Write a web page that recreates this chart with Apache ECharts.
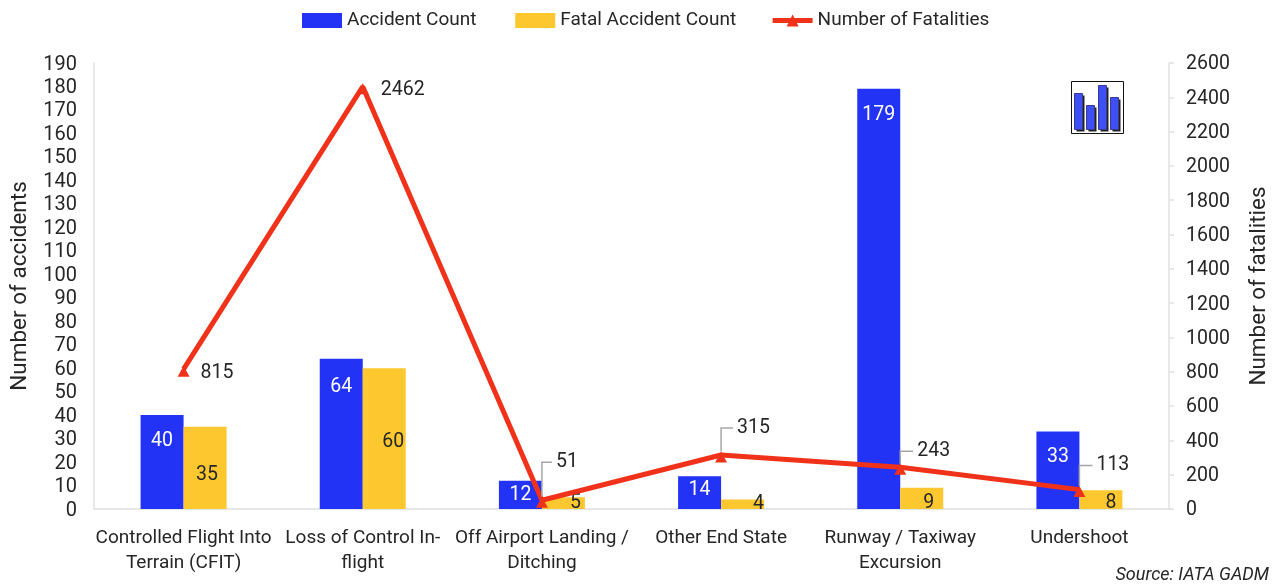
<!DOCTYPE html>
<html><head><meta charset="utf-8">
<style>html,body{margin:0;padding:0;background:#fff}#c{width:1277px;height:587px}</style>
<script src="https://cdn.jsdelivr.net/npm/echarts@6/dist/echarts.min.js"></script>
</head><body><div id="c"></div>
<script>
const categories = ['Controlled Flight Into\nTerrain (CFIT)','Loss of Control In-\nflight','Off Airport Landing /\nDitching','Other End State','Runway / Taxiway\nExcursion','Undershoot'];
const accidentCount = [40,64,12,14,179,33];
const fatalAccidentCount = [35,60,5,4,9,8];
const fatalities = [815,2462,51,315,243,113];
const F='Roboto', INK='#262626', AXIS='#e0e0e0', LEAD='#a6a6a6';
const chart = echarts.init(document.getElementById('c'));
const accOffY=[16,18,4,4,16,16];
const fatOff=[[2,-24],[9,-57],[12,4.5],[16,5.5],[7,4.5],[10,4.5]];
const leader=[false,false,true,true,true,true];
const leaderLen=[0,0,10,12,13,13];
const lblOff=[[7,2],[8,1],[4,-40],[6,-29],[7,-18],[7,-26]];
chart.setOption({
  animation:false,
  textStyle:{fontFamily:F},
  legend:{top:6,left:297,itemGap:34,itemWidth:40,itemHeight:15,textStyle:{fontFamily:F,fontSize:19,color:INK},
    formatter:n=>n==='Accident Count'?n+' ':n,
    data:[{name:'Accident Count',icon:'rect'},{name:'Fatal Accident Count',icon:'rect'},{name:'Number of Fatalities',symbolSize:15,lineStyle:{width:5,color:'#f0321a'}}]},
  grid:{left:94,right:108,top:63,bottom:78,outerBoundsMode:'none'},
  xAxis:{type:'category',data:categories,axisTick:{show:false},axisLine:{lineStyle:{color:AXIS,width:1.5}},
    axisLabel:{fontFamily:F,fontSize:19,color:INK,lineHeight:25,margin:17,interval:0}},
  yAxis:[
    {type:'value',min:0,max:190,interval:10,name:'Number of accidents',nameLocation:'middle',nameGap:62,nameRotate:90,
      nameTextStyle:{fontFamily:F,fontSize:22.5,color:INK},splitLine:{show:false},axisLine:{show:true,lineStyle:{color:AXIS,width:1.5}},axisTick:{show:false},
      axisLabel:{fontFamily:F,fontSize:20,color:INK,margin:17,verticalAlign:'top',padding:[-8.5,0,0,0]}},
    {type:'value',min:0,max:2600,interval:200,position:'right',name:'Number of fatalities',nameLocation:'middle',nameGap:79,nameRotate:90,
      nameTextStyle:{fontFamily:F,fontSize:22.5,color:INK},splitLine:{show:false},axisLine:{show:true,lineStyle:{color:AXIS,width:1.5}},axisTick:{show:true,length:5,lineStyle:{color:AXIS,width:1.5}},
      axisLabel:{fontFamily:F,fontSize:19.5,color:INK,margin:17,verticalAlign:'top',padding:[-8.5,0,0,0],formatter:v=>String(v)}}
  ],
  series:[
    {name:'Accident Count',type:'bar',barGap:0,barCategoryGap:'52%',itemStyle:{color:'#2233f5'},
      data:accidentCount.map((v,i)=>({value:v,label:{show:true,position:'insideTop',distance:0,offset:[0,accOffY[i]],fontFamily:F,fontSize:19.5,color:'#fff'}}))},
    {name:'Fatal Accident Count',type:'bar',itemStyle:{color:'#fdc82f'},
      data:fatalAccidentCount.map((v,i)=>({value:v,label:{show:true,position:'insideBottom',distance:0,offset:fatOff[i],fontFamily:F,fontSize:19.5,color:INK}}))},
    {name:'Number of Fatalities',type:'line',yAxisIndex:1,symbol:'triangle',symbolSize:[12,11],symbolOffset:[0,2],showAllSymbol:true,
      lineStyle:{color:'#f0321a',width:5},itemStyle:{color:'#f0321a'},
      label:{show:true,position:'right',distance:0,fontFamily:F,fontSize:19.5,color:INK},
      labelLayout:p=>({dx:lblOff[p.dataIndex][0],dy:lblOff[p.dataIndex][1]}),
      labelLine:{show:true,lineStyle:{color:LEAD,width:1.5}},
      data:fatalities.map((v,i)=>({value:v,
        label:{padding:leader[i]?[0,40,0,4]:[0,0,0,4],backgroundColor:'transparent'},
        labelLine:{show:leader[i],length2:leaderLen[i],lineStyle:{color:LEAD,width:1.5}}}))}
  ],
  graphic:[
    {type:'text',right:8,top:566,style:{text:'Source: IATA GADM',fontFamily:F,fontSize:18,fontStyle:'italic',fill:INK}},
    {type:'group',left:1071,top:81,children:[
      {type:'rect',shape:{x:0,y:0,width:52,height:52},style:{fill:'#fff',stroke:'#111',lineWidth:1}},
      ...[[3,12,8,36],[15,24,8,24],[27,4,8,44],[39,16,8,32]].flatMap(r=>[
        {type:'rect',shape:{x:r[0]+2,y:r[1]+2,width:r[2],height:r[3]},style:{fill:'#222'}},
        {type:'rect',shape:{x:r[0],y:r[1],width:r[2],height:r[3]},style:{fill:'#3d4ff5',stroke:'#3a3a8a',lineWidth:1}}])
    ]}
  ]
});
</script></body></html>
